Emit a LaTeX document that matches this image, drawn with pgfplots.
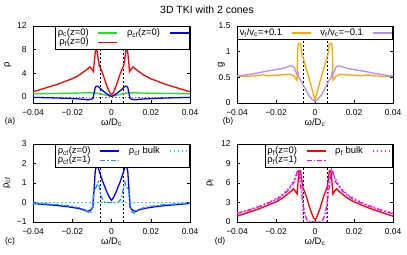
\documentclass[border=0pt]{standalone}
\usepackage{pgfplots}
\pgfplotsset{compat=1.18}
\usepackage{fontspec}
\setmainfont{Liberation Sans}

\definecolor{gpgreen}{HTML}{1FE01F}
\definecolor{gpblue}{HTML}{0000FF}
\definecolor{gpred}{HTML}{FF0000}
\definecolor{gporange}{HTML}{FFA500}
\definecolor{gppurple}{HTML}{B98CF4}
\definecolor{gplblue}{HTML}{1E90FF}
\definecolor{gpcyan}{HTML}{22E6D0}
\definecolor{gpmagenta}{HTML}{FF00FF}
\definecolor{gpviolet}{HTML}{C832F0}

\newcommand{\tickfont}{\fontsize{8.5}{9}\selectfont}
\newcommand{\labfont}{\fontsize{9.5}{10}\selectfont}
\newcommand{\legfont}{\fontsize{9.5}{10}\selectfont}

\pgfplotsset{gp panel/.style={
  scale only axis, anchor=south west,
  xmin=-0.04, xmax=0.04, scaled x ticks=false,
  xtick={-0.04,-0.02,0,0.02,0.04},
  xticklabels={−0.04,−0.02,0,0.02,0.04},
  tick align=inside, major tick length=3bp,
  tick style={black, line width=0.4bp},
  axis line style={black, line width=0.5bp},
  tick label style={font=\tickfont},
  xticklabel shift=3bp, yticklabel shift=3bp,
  label style={font=\labfont},
  xlabel={ω/D\textsubscript{c}},
  xlabel style={at={(axis description cs:0.5,0)}, anchor=center, yshift=-20bp},
  enlargelimits=false, clip=true,
  legend columns=2, legend plot pos=right, legend cell align=right,
  legend image code/.code={\draw[##1] (0bp,0bp) -- (19bp,0bp);},
  legend style={at={(1,1)}, anchor=north east, draw=black, line width=0.5bp,
    fill=white, font=\legfont, inner sep=0.5bp, row sep=-3bp,
    column sep=7bp},
  every axis plot/.append style={line width=1.3bp},
}}

\begin{document}
\begin{tikzpicture}
\path[use as bounding box] (0,0) rectangle (407bp,255bp);

\node[font=\fontsize{10.5}{12}\selectfont] at (207bp,245bp) {3D TKI with 2 cones};
\node[font=\tickfont] at (10bp,134bp) {(a)};
\node[font=\tickfont] at (228bp,134bp) {(b)};
\node[font=\tickfont] at (10bp,14bp) {(c)};
\node[font=\tickfont] at (220bp,14bp) {(d)};

% (a)
\begin{axis}[gp panel, at={(33bp,152bp)}, width=157bp, height=77bp,
  ymin=-1, ymax=12, ytick={0,4,8,12}, yticklabels={0,4,8,12},
  ylabel={ρ}, ylabel style={at={(axis description cs:-0.16,0.5)}, anchor=center}]
\addplot[black!60, dotted, line width=0.5bp, forget plot] coordinates {(-0.04,0) (0.04,0)};
\addplot[black, dash pattern=on 2bp off 2bp, line width=0.4bp, forget plot] coordinates {(-0.006,-1) (-0.006,12)};
\addplot[black, dash pattern=on 2bp off 2bp, line width=0.4bp, forget plot] coordinates {(0.006,-1) (0.006,12)};
\addplot[gpgreen] coordinates {(-0.04,0.55) (-0.03,0.6) (-0.02,0.65) (-0.012,0.72) (-0.009,0.7) (-0.007,0.62) (-0.005,0.5) (-0.003,0.35) (-0.0015,0.22) (0,0.12)
  (0.0015,0.22) (0.003,0.35) (0.005,0.5) (0.007,0.62) (0.009,0.7) (0.012,0.72) (0.02,0.65) (0.03,0.6) (0.04,0.55)};
\addlegendentry{ρ\textsubscript{c}(z=0)}
\addplot[gpblue] coordinates {(-0.040,-0.05) (-0.034,-0.1) (-0.028,-0.15) (-0.022,-0.22) (-0.017,-0.3) (-0.014,-0.38) (-0.0125,-0.45) (-0.011,-0.42) (-0.0095,-0.25) (-0.0088,0.8) (-0.0083,1.6) (-0.0078,1.82) (-0.0068,1.8) (-0.0062,1.6) (-0.0055,1.38) (-0.0045,1.08) (-0.0033,0.78) (-0.0024,0.55) (-0.0016,0.38) (-0.0008,0.22) (0,0.12)
  (0.0008,0.22) (0.0016,0.38) (0.0024,0.55) (0.0033,0.78) (0.0045,1.08) (0.0055,1.38) (0.0062,1.6) (0.0068,1.8) (0.0078,1.82) (0.0083,1.6) (0.0088,0.8) (0.0095,-0.25) (0.011,-0.42) (0.0125,-0.45) (0.014,-0.38) (0.017,-0.3) (0.022,-0.22) (0.028,-0.15) (0.034,-0.1) (0.040,-0.05)};
\addlegendentry{ρ\textsubscript{cf}(z=0)}
\addplot[gpred] coordinates {(-0.040,0.9) (-0.036,1.3) (-0.032,1.7) (-0.028,2.1) (-0.024,2.6) (-0.020,3.1) (-0.017,3.6) (-0.014,4.3) (-0.012,4.8) (-0.011,5.1) (-0.010,4.7) (-0.0092,4.3) (-0.0086,6.5) (-0.0082,7.8) (-0.0074,7.9) (-0.0068,6.5) (-0.0062,5.3) (-0.0055,4.8) (-0.0045,4.0) (-0.0035,3.0) (-0.0025,2.0) (-0.0015,1.2) (-0.0007,0.6) (0,0.4)
  (0.0007,0.6) (0.0015,1.2) (0.0025,2.0) (0.0035,3.0) (0.0045,4.0) (0.0055,4.8) (0.0062,5.3) (0.0068,6.5) (0.0074,7.9) (0.0082,7.8) (0.0086,6.5) (0.0092,4.3) (0.010,4.7) (0.011,5.1) (0.012,4.8) (0.014,4.3) (0.017,3.6) (0.020,3.1) (0.024,2.6) (0.028,2.1) (0.032,1.7) (0.036,1.3) (0.040,0.9)};
\addlegendentry{ρ\textsubscript{f}(z=0)}
\end{axis}

% (b)
\begin{axis}[gp panel, at={(237bp,152bp)}, width=156bp, height=77bp,
  ymin=0, ymax=1.5, ytick={0,0.5,1,1.5}, yticklabels={0,0.5,1,1.5},
  ylabel={g}, ylabel style={at={(axis description cs:-0.1,0.5)}, anchor=center}]
\addplot[black, dash pattern=on 2bp off 2bp, line width=0.4bp, forget plot] coordinates {(-0.006,0) (-0.006,1.5)};
\addplot[black, dash pattern=on 2bp off 2bp, line width=0.4bp, forget plot] coordinates {(0.006,0) (0.006,1.5)};
\addplot[gporange] coordinates {(-0.040,0.52) (-0.035,0.52) (-0.03,0.53) (-0.027,0.55) (-0.024,0.53) (-0.02,0.54) (-0.016,0.55) (-0.013,0.56) (-0.011,0.53) (-0.0098,0.47) (-0.0092,0.44) (-0.0089,1.0) (-0.0086,1.16) (-0.0073,1.16) (-0.0068,0.97) (-0.0045,0.67) (-0.003,0.47) (-0.0015,0.27) (0,0.06)
  (0.0015,0.27) (0.003,0.47) (0.0045,0.67) (0.0068,0.97) (0.0073,1.16) (0.0086,1.16) (0.0089,1.0) (0.0092,0.44) (0.0098,0.47) (0.011,0.53) (0.013,0.56) (0.016,0.55) (0.02,0.54) (0.024,0.53) (0.027,0.55) (0.03,0.53) (0.035,0.52) (0.040,0.52)};
\addlegendentry{v\textsubscript{f}/v\textsubscript{c}=+0.1}
\addplot[gppurple] coordinates {(-0.04,0.52) (-0.035,0.55) (-0.03,0.58) (-0.025,0.62) (-0.02,0.65) (-0.016,0.68) (-0.013,0.72) (-0.0115,0.72) (-0.0105,0.68) (-0.0094,0.57) (-0.0088,0.6) (-0.0083,0.5) (-0.0068,0.41) (-0.005,0.28) (-0.0034,0.16) (-0.0017,0.08) (0,0.03)
  (0.0017,0.08) (0.0034,0.16) (0.005,0.28) (0.0068,0.41) (0.0083,0.5) (0.0088,0.6) (0.0094,0.57) (0.0105,0.68) (0.0115,0.72) (0.013,0.72) (0.016,0.68) (0.02,0.65) (0.025,0.62) (0.03,0.58) (0.035,0.55) (0.04,0.52)};
\addlegendentry{v\textsubscript{f}/v\textsubscript{c}=−0.1}
\end{axis}

% (c)
\begin{axis}[gp panel, at={(33bp,33bp)}, width=157bp, height=78bp,
  ymin=-1, ymax=3, ytick={-1,0,1,2,3}, yticklabels={−1,0,1,2,3},
  ylabel={ρ\textsubscript{cf}}, ylabel style={at={(axis description cs:-0.166,0.5)}, anchor=center}]
\addplot[black, dash pattern=on 2bp off 2bp, line width=0.4bp, forget plot] coordinates {(-0.006,-1) (-0.006,3)};
\addplot[black, dash pattern=on 2bp off 2bp, line width=0.4bp, forget plot] coordinates {(0.006,-1) (0.006,3)};
\addplot[gpblue] coordinates {(-0.040,-0.05) (-0.034,-0.1) (-0.028,-0.15) (-0.022,-0.22) (-0.017,-0.3) (-0.014,-0.38) (-0.0125,-0.45) (-0.011,-0.42) (-0.0095,-0.25) (-0.0088,0.8) (-0.0083,1.6) (-0.0078,1.82) (-0.0068,1.8) (-0.0062,1.6) (-0.0055,1.38) (-0.0045,1.08) (-0.0033,0.78) (-0.0024,0.55) (-0.0016,0.38) (-0.0008,0.22) (0,0.12)
  (0.0008,0.22) (0.0016,0.38) (0.0024,0.55) (0.0033,0.78) (0.0045,1.08) (0.0055,1.38) (0.0062,1.6) (0.0068,1.8) (0.0078,1.82) (0.0083,1.6) (0.0088,0.8) (0.0095,-0.25) (0.011,-0.42) (0.0125,-0.45) (0.014,-0.38) (0.017,-0.3) (0.022,-0.22) (0.028,-0.15) (0.034,-0.1) (0.040,-0.05)};
\addlegendentry{ρ\textsubscript{cf}(z=0)}
\addplot[gpcyan, dash pattern=on 1.5bp off 2.5bp] coordinates {(-0.04,0) (0.04,0)};
\addlegendentry{ρ\textsubscript{cf} bulk}
\addplot[gplblue, dash pattern=on 5bp off 2bp on 1.5bp off 2bp] coordinates {(-0.040,-0.03) (-0.032,-0.08) (-0.026,-0.12) (-0.02,-0.2) (-0.016,-0.28) (-0.013,-0.4) (-0.0115,-0.55) (-0.0105,-0.5) (-0.0097,-0.25) (-0.0092,0.4) (-0.0085,0.65) (-0.0075,0.85) (-0.0068,1.05) (-0.0062,0.8) (-0.0055,0.4) (-0.0045,0.12) (-0.0035,0.02) (-0.002,0) (0,0)
  (0.002,0) (0.0035,0.02) (0.0045,0.12) (0.0055,0.4) (0.0062,0.8) (0.0068,1.05) (0.0075,0.85) (0.0085,0.65) (0.0092,0.4) (0.0097,-0.25) (0.0105,-0.5) (0.0115,-0.55) (0.013,-0.4) (0.016,-0.28) (0.02,-0.2) (0.026,-0.12) (0.032,-0.08) (0.040,-0.03)};
\addlegendentry{ρ\textsubscript{cf}(z=1)}
\end{axis}

% (d)
\begin{axis}[gp panel, at={(237bp,33bp)}, width=156bp, height=78bp,
  ymin=0, ymax=12, ytick={0,3,6,9,12}, yticklabels={0,3,6,9,12},
  ylabel={ρ\textsubscript{f}}, ylabel style={at={(axis description cs:-0.173,0.5)}, anchor=center}]
\addplot[black, dash pattern=on 2bp off 2bp, line width=0.4bp, forget plot] coordinates {(-0.006,0) (-0.006,12)};
\addplot[black, dash pattern=on 2bp off 2bp, line width=0.4bp, forget plot] coordinates {(0.006,0) (0.006,12)};
\addplot[gpred] coordinates {(-0.040,0.9) (-0.036,1.3) (-0.032,1.7) (-0.028,2.1) (-0.024,2.6) (-0.020,3.1) (-0.017,3.6) (-0.014,4.3) (-0.012,4.8) (-0.011,5.1) (-0.010,4.7) (-0.0092,4.3) (-0.0086,6.5) (-0.0082,7.8) (-0.0074,7.9) (-0.0068,6.5) (-0.0062,5.3) (-0.0055,4.8) (-0.0045,4.0) (-0.0035,3.0) (-0.0025,2.0) (-0.0015,1.2) (-0.0007,0.6) (0,0.4)
  (0.0007,0.6) (0.0015,1.2) (0.0025,2.0) (0.0035,3.0) (0.0045,4.0) (0.0055,4.8) (0.0062,5.3) (0.0068,6.5) (0.0074,7.9) (0.0082,7.8) (0.0086,6.5) (0.0092,4.3) (0.010,4.7) (0.011,5.1) (0.012,4.8) (0.014,4.3) (0.017,3.6) (0.020,3.1) (0.024,2.6) (0.028,2.1) (0.032,1.7) (0.036,1.3) (0.040,0.9)};
\addlegendentry{ρ\textsubscript{f}(z=0)}
\addplot[gpviolet, dash pattern=on 1.5bp off 2.5bp] coordinates {(-0.04,1.4) (-0.036,1.7) (-0.032,2.1) (-0.028,2.5) (-0.024,3.0) (-0.02,3.6) (-0.017,4.2) (-0.014,5.0) (-0.012,5.8) (-0.0105,6.6) (-0.0095,7.4) (-0.0085,8.1) (-0.0078,7.6) (-0.007,6.5) (-0.0063,4.5) (-0.006,0) (0,0)
  (0.006,0) (0.0063,4.5) (0.007,6.5) (0.0078,7.6) (0.0085,8.1) (0.0095,7.4) (0.0105,6.6) (0.012,5.8) (0.014,5.0) (0.017,4.2) (0.02,3.6) (0.024,3.0) (0.028,2.5) (0.032,2.1) (0.036,1.7) (0.04,1.4)};
\addlegendentry{ρ\textsubscript{f} bulk}
\addplot[gpmagenta, dash pattern=on 5bp off 2bp on 1.5bp off 2bp] coordinates {(-0.04,1.3) (-0.036,1.6) (-0.032,2.0) (-0.028,2.4) (-0.024,2.9) (-0.02,3.4) (-0.017,4.0) (-0.014,4.8) (-0.012,5.6) (-0.0105,6.2) (-0.0095,7.3) (-0.0088,8.0) (-0.0082,7.5) (-0.0075,6.0) (-0.0068,4.2) (-0.006,2.5) (-0.005,1.0) (-0.004,0.3) (-0.003,0.05) (0,0)
  (0.003,0.05) (0.004,0.3) (0.005,1.0) (0.006,2.5) (0.0068,4.2) (0.0075,6.0) (0.0082,7.5) (0.0088,8.0) (0.0095,7.3) (0.0105,6.2) (0.012,5.6) (0.014,4.8) (0.017,4.0) (0.02,3.4) (0.024,2.9) (0.028,2.4) (0.032,2.0) (0.036,1.6) (0.04,1.3)};
\addlegendentry{ρ\textsubscript{f}(z=1)}
\end{axis}
\end{tikzpicture}
\end{document}
